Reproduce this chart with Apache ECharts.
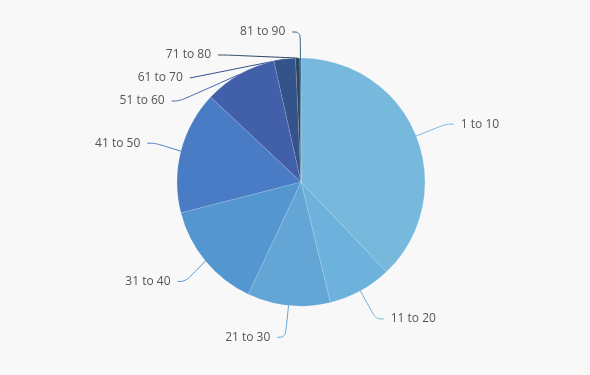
<!DOCTYPE html>
<html><head><meta charset="utf-8">
<script src="https://cdn.jsdelivr.net/npm/echarts@6/dist/echarts.min.js"></script>
<style>html,body{margin:0;padding:0;background:#f8f8f8}#c{width:590px;height:375px}</style>
</head><body><div id="c"></div>
<script>
const categories = ['1 to 10','11 to 20','21 to 30','31 to 40','41 to 50','51 to 60','61 to 70','71 to 80','81 to 90'];
const values = [37.9, 8.3, 10.8, 14.0, 16.0, 9.5, 2.8, 0.55, 0.15];
const colors = ['#77b9dd','#6db2dc','#63a6d6','#5396d0','#4a7cc6','#4260aa','#34538a','#2a4560','#2f5f80'];
const chart = echarts.init(document.getElementById('c'));
chart.setOption({
  backgroundColor: '#f8f8f8',
  animation: false,
  series: [{
    type: 'pie',
    center: [301, 182],
    radius: 124,
    startAngle: 90,
    clockwise: true,
    data: categories.map((c, i) => {
      const d = { name: c, value: values[i], itemStyle: { color: colors[i] } };
      if (i >= 5) d.labelLine = { length: 26 };
      return d;
    }),
    itemStyle: { borderColor: 'rgba(255,255,255,0.25)', borderWidth: 0.5 },
    label: { color: '#555', fontSize: 12, fontFamily: 'Open Sans', lineHeight: 21, padding: [0, 2] },
    labelLine: { smooth: 0.4, length: 32, length2: 8, lineStyle: { width: 1 } }
  }]
});
</script></body></html>
